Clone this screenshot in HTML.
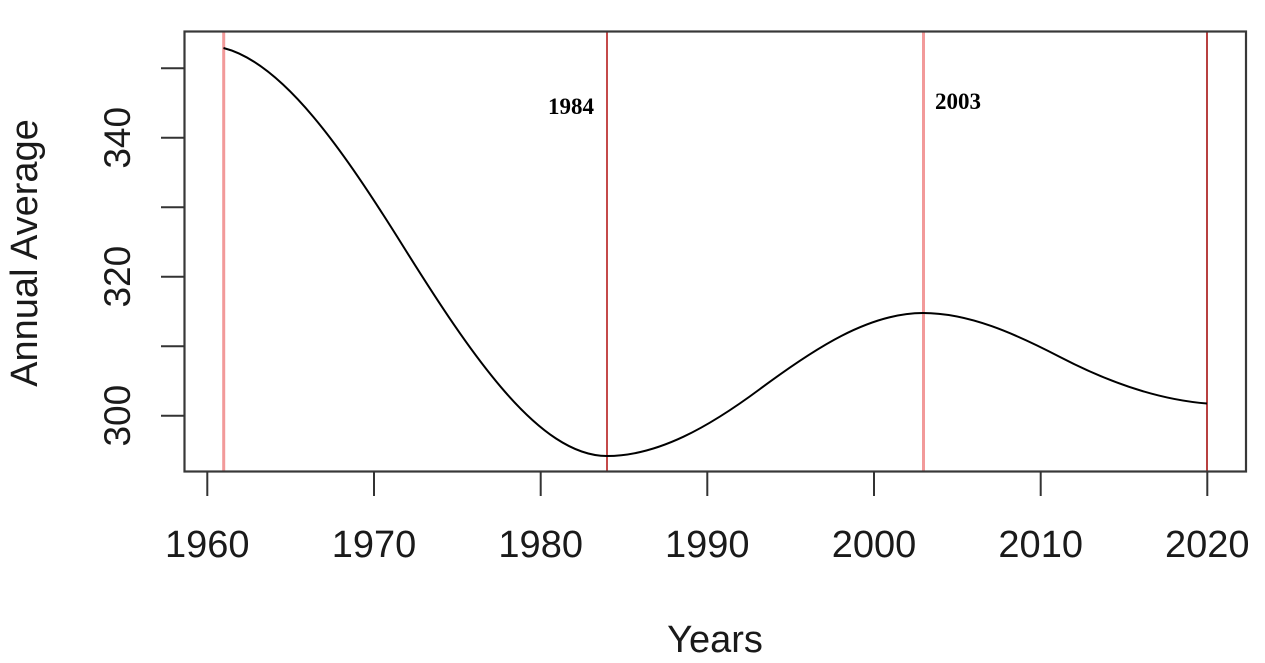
<!DOCTYPE html>
<html>
<head>
<meta charset="utf-8">
<style>
  html, body { margin: 0; padding: 0; background: #ffffff; }
  body { width: 1265px; height: 663px; overflow: hidden; }
  svg { display: block; }
</style>
</head>
<body>
<svg width="1265" height="663" viewBox="0 0 1265 663" xmlns="http://www.w3.org/2000/svg">
  <rect x="0" y="0" width="1265" height="663" fill="#ffffff"/>

  <!-- vertical reference lines -->
  <line x1="223.7" y1="31" x2="223.7" y2="471" stroke="#f29a9a" stroke-width="3"/>
  <line x1="607" y1="31" x2="607" y2="471" stroke="#c44a4a" stroke-width="2"/>
  <line x1="923.5" y1="31" x2="923.5" y2="471" stroke="#f29a9a" stroke-width="3"/>
  <line x1="1207" y1="31" x2="1207" y2="471" stroke="#b84040" stroke-width="2"/>

  <!-- curve -->
  <path d="M223.5,48
           C283.3,63 343.2,150.3 403,246
           C471,354.8 539,456 607,456
           C658,456 709,426.9 760,389
           C814.3,348.6 868.7,313 923,313
           C968.7,313 1014.3,333.2 1060,357
           C1109,382.5 1158,399.6 1207,403.5"
        fill="none" stroke="#000000" stroke-width="2"/>

  <!-- plot frame -->
  <rect x="184.5" y="31.5" width="1061.5" height="440" fill="none" stroke="#383838" stroke-width="2.2"/>

  <!-- y ticks -->
  <g stroke="#333" stroke-width="2">
    <line x1="161" y1="68.3" x2="184.5" y2="68.3"/>
    <line x1="161" y1="137.8" x2="184.5" y2="137.8"/>
    <line x1="161" y1="207.2" x2="184.5" y2="207.2"/>
    <line x1="161" y1="276.7" x2="184.5" y2="276.7"/>
    <line x1="161" y1="346.2" x2="184.5" y2="346.2"/>
    <line x1="161" y1="415.7" x2="184.5" y2="415.7"/>
  </g>

  <!-- x ticks -->
  <g stroke="#333" stroke-width="2">
    <line x1="207.3" y1="471.5" x2="207.3" y2="496"/>
    <line x1="374" y1="471.5" x2="374" y2="496"/>
    <line x1="540.7" y1="471.5" x2="540.7" y2="496"/>
    <line x1="707.3" y1="471.5" x2="707.3" y2="496"/>
    <line x1="874" y1="471.5" x2="874" y2="496"/>
    <line x1="1040.7" y1="471.5" x2="1040.7" y2="496"/>
    <line x1="1207.3" y1="471.5" x2="1207.3" y2="496"/>
  </g>

  <!-- x tick labels -->
  <g font-family="'Liberation Sans', Arial, sans-serif" font-size="38" fill="#1a1a1a" text-anchor="middle">
    <text x="207.3" y="557">1960</text>
    <text x="374" y="557">1970</text>
    <text x="540.7" y="557">1980</text>
    <text x="707.3" y="557">1990</text>
    <text x="874" y="557">2000</text>
    <text x="1040.7" y="557">2010</text>
    <text x="1207.3" y="557">2020</text>
  </g>

  <!-- y tick labels (rotated) -->
  <g font-family="'Liberation Sans', Arial, sans-serif" font-size="37" fill="#1a1a1a" text-anchor="middle">
    <text transform="translate(130,415.7) rotate(-90)">300</text>
    <text transform="translate(130,276.7) rotate(-90)">320</text>
    <text transform="translate(130,137.8) rotate(-90)">340</text>
  </g>

  <!-- axis titles -->
  <text x="715" y="652" font-family="'Liberation Sans', Arial, sans-serif" font-size="38" fill="#1a1a1a" text-anchor="middle">Years</text>
  <text transform="translate(37,253) rotate(-90)" font-family="'Liberation Sans', Arial, sans-serif" font-size="38" fill="#1a1a1a" text-anchor="middle">Annual Average</text>

  <!-- annotations -->
  <text x="594" y="114" font-family="'Liberation Serif', 'Times New Roman', serif" font-weight="bold" font-size="23" fill="#000" text-anchor="end">1984</text>
  <text x="935" y="109" font-family="'Liberation Serif', 'Times New Roman', serif" font-weight="bold" font-size="23" fill="#000">2003</text>
</svg>
</body>
</html>
